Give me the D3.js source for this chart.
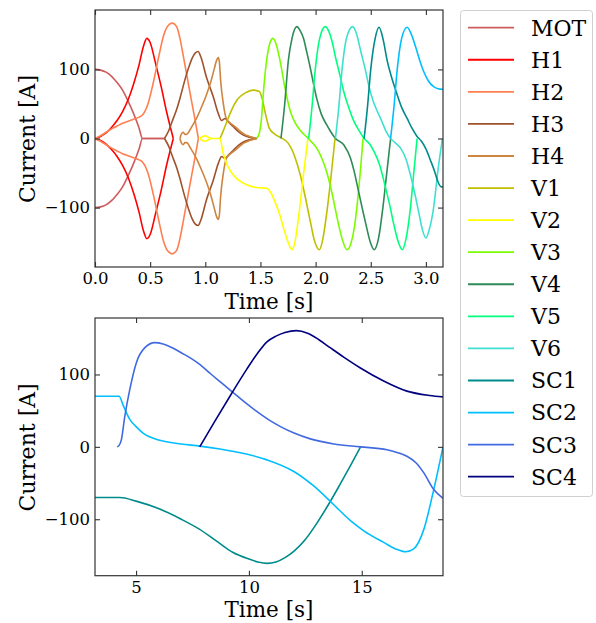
<!DOCTYPE html>
<html><head><meta charset="utf-8">
<script src="https://cdn.jsdelivr.net/npm/d3@7"></script>
<style>body{margin:0;background:#fff;} text{font-family:"DejaVu Serif",serif;fill:#000;}</style>
</head><body><svg id="c" width="596" height="623"></svg>
<script>
// ---------- series names and colours ----------
const names  = ["MOT","H1","H2","H3","H4","V1","V2","V3","V4","V5","V6","SC1","SC2","SC3","SC4"];
const colors = ["#cd5c5c","#ff0000","#ff7f50","#a0522d","#cd853f","#bfbf00","#ffff00","#7cfc00","#2e8b57","#00ff7f","#40e0d0","#008b8b","#00bfff","#4169e1","#000080"];

// ---------- top panel (0 - 3.16 s) ----------
// series drawn with a mirrored (negative) branch in the reference
const MOT_t = [0,0.05,0.1,0.15,0.2,0.25,0.3,0.35,0.4,0.43,0.63];
const MOT_I = [100,99,96,90,81,70,54,36,15,0,0];
const H1_t = [0,0.05,0.1,0.15,0.2,0.25,0.3,0.35,0.4,0.44,0.47,0.5,0.55,0.6,0.65,0.71];
const H1_I = [0,3,8,16,26,39,56,79,107,134,145,139,108,75,38,0];
const H2_t = [0,0.05,0.1,0.15,0.2,0.25,0.3,0.35,0.4,0.43,0.48,0.53,0.58,0.62,0.66,0.7,0.74,0.77,0.8,0.85,0.9,0.937];
const H2_I = [0,4,9,14,18,22,25,28,31,34,50,82,120,148,163,167,162,145,120,76,33,0];
const H3_t = [0.63,0.67,0.7,0.74,0.77,0.81,0.85,0.88,0.91,0.935,0.96,1.01,1.073,1.118,1.148,1.179,1.21,1.254,1.3,1.345,1.4,1.466];
const H3_I = [0,12,25,42,58,82,103,116,124,126,118,89,60,36,26,29,24,17,10,5,2,0];
const H4_t = [0.77,0.785,0.8,0.815,0.83,0.87,0.92,0.97,1.01,1.05,1.08,1.1,1.118,1.128,1.139,1.163,1.19,1.22,1.254,1.3,1.345,1.4,1.466];
const H4_I = [0,7,9,6,6,15,29,47,63,82,100,112,117,110,84,51,29,23,19,13,7,3,0];
const V2loop_t = [0.95,0.975,1.0,1.025,1.05];
const V2loop_I = [0,3,4,2,0];
// single-branch series
const V1_t = [1.133,1.16,1.19,1.224,1.285,1.375,1.436,1.49,1.515,1.545,1.58,1.632,1.69,1.753,1.813,1.86,1.9,1.952,1.99,2.034,2.06,2.1,2.14,2.176];
const V1_I = [0,10,22,36,55,67,70,68,58,36,15,6,1,-7,-27,-52,-80,-120,-148,-161,-150,-109,-55,0];
const V2_t = [1.05,1.133,1.16,1.19,1.224,1.285,1.375,1.466,1.556,1.6,1.632,1.68,1.707,1.75,1.786,1.81,1.85,1.89,1.93];
const V2_I = [0,0,-20,-35,-46,-58,-67,-71,-72,-80,-92,-113,-128,-150,-161,-152,-108,-52,0];
const V3_t = [1.466,1.49,1.51,1.526,1.556,1.585,1.614,1.645,1.677,1.72,1.768,1.81,1.86,1.934,1.97,2.01,2.06,2.1,2.15,2.19,2.24,2.285,2.32,2.35,2.39,2.43];
const V3_I = [0,8,30,65,113,138,145,135,113,75,41,24,12,0,-6,-14,-30,-48,-80,-111,-145,-161,-152,-130,-75,0];
const V4_t = [1.686,1.72,1.753,1.786,1.83,1.86,1.89,1.92,1.952,1.98,2.01,2.05,2.1,2.14,2.18,2.255,2.315,2.35,2.39,2.45,2.5,2.53,2.57,2.61,2.645,2.68];
const V4_I = [0,50,113,145,162,156,145,125,102,80,58,36,20,9,0,-9,-28,-48,-77,-120,-152,-161,-145,-100,-50,0];
const V5_t = [1.937,1.967,1.997,2.037,2.088,2.12,2.15,2.18,2.22,2.255,2.3,2.35,2.4,2.44,2.49,2.53,2.58,2.62,2.67,2.71,2.75,2.786,2.82,2.86,2.89,2.92];
const V5_I = [0,45,100,145,162,155,140,118,92,68,45,24,10,0,-8,-19,-38,-62,-95,-125,-150,-161,-145,-100,-50,0];
const V6_t = [2.18,2.21,2.24,2.28,2.335,2.37,2.41,2.45,2.48,2.52,2.56,2.6,2.64,2.68,2.72,2.77,2.82,2.86,2.9,2.94,2.97,3.0,3.03,3.07,3.11,3.15];
const V6_I = [0,45,100,145,162,152,126,100,78,55,39,25,10,0,-6,-14,-30,-53,-80,-111,-133,-144,-132,-100,-45,0];
const SC1top_t = [2.44,2.47,2.5,2.54,2.575,2.61,2.65,2.69,2.73,2.78,2.83,2.87,2.92,2.96,3.0,3.04,3.08,3.11,3.14,3.16];
const SC1top_I = [0,45,100,145,161,145,112,88,68,45,29,16,3,-4,-15,-31,-48,-63,-70,-70];
const SC2top_t = [2.68,2.71,2.74,2.78,2.83,2.87,2.91,2.95,2.98,3.02,3.07,3.11,3.16];
const SC2top_I = [0,45,100,145,161,150,131,110,97,84,75,72,71];

// ---------- bottom panel (3.18 - 18.6 s) ----------
const SC1_t = [3.18,4.28,5.0,6.05,7.0,7.82,8.6,9.3,10.0,10.4,10.8,11.2,11.6,12.0,12.5,13.0,13.5,14.0,14.5,14.95];
const SC1_I = [-70,-70,-75,-86,-100,-114,-131,-146,-155,-159,-161,-159,-153,-144,-128,-106,-81,-54,-26,0];
const SC2_t = [3.18,4.25,4.42,4.72,5.0,5.31,6.05,7.0,7.82,8.71,9.89,10.8,11.99,12.87,13.76,14.5,15.09,15.97,16.5,16.95,17.3,17.75,18.19,18.6];
const SC2_I = [70,70,58,38,28,19,9,4,1,-3,-10,-18,-34,-54,-80,-102,-116,-132,-141,-145,-141,-114,-59,0];
const SC3_t = [4.16,4.25,4.35,4.5,4.72,5.01,5.39,5.83,6.2,6.6,7.0,7.4,7.82,8.3,8.8,9.3,9.8,10.3,10.85,11.4,12.0,12.72,13.76,14.94,16.12,16.6,17.0,17.4,17.75,18.19,18.6];
const SC3_I = [0,2,10,42,79,116,137,144,142,137,130,123,114,101,88,75,62,50,38,28,19,11,4,0,-4,-8,-13,-22,-36,-59,-71];
const SC4_t = [7.82,8.5,9.2,9.9,10.4,10.8,11.2,11.6,12.1,12.6,13.1,13.6,14.2,14.94,15.97,17.0,18.0,18.6];
const SC4_I = [0,36,72,107,130,145,153,158,160.5,157,148,137,124,109,91,77,71,69];

// ---------- axes ticks ----------
const topXTicks = [0,0.5,1.0,1.5,2.0,2.5,3.0];
const botXTicks = [5,10,15];
const yTicks = [-100,0,100];

const zip = (t, I) => t.map((v, i) => [v, I[i]]);
const neg = pts => pts.map(p => [p[0], -p[1]]);

const topLines = [
  {s:"MOT", pts:zip(MOT_t,MOT_I), mirror:true},
  {s:"H1", pts:zip(H1_t,H1_I), mirror:true},
  {s:"H2", pts:zip(H2_t,H2_I), mirror:true},
  {s:"H3", pts:zip(H3_t,H3_I), mirror:true},
  {s:"H4", pts:zip(H4_t,H4_I), mirror:true},
  {s:"V1", pts:zip(V1_t,V1_I)},
  {s:"V2", pts:zip(V2loop_t,V2loop_I), mirror:true},
  {s:"V2", pts:zip(V2_t,V2_I)},
  {s:"V3", pts:zip(V3_t,V3_I)},
  {s:"V4", pts:zip(V4_t,V4_I)},
  {s:"V5", pts:zip(V5_t,V5_I)},
  {s:"V6", pts:zip(V6_t,V6_I)},
  {s:"SC1", pts:zip(SC1top_t,SC1top_I)},
  {s:"SC2", pts:zip(SC2top_t,SC2top_I)}
];
const botLines = [
  {s:"SC1", pts:zip(SC1_t,SC1_I)},
  {s:"SC2", pts:zip(SC2_t,SC2_I)},
  {s:"SC3", pts:zip(SC3_t,SC3_I)},
  {s:"SC4", pts:zip(SC4_t,SC4_I)}
];

const svg = d3.select("#c");
const colorOf = d3.scaleOrdinal().domain(names).range(colors);
const L = 95, R = 443;
const spine = "#333";

function panel(id, top, bottom, xDom, yDom, xTicks, xFmt, lines) {
  const x = d3.scaleLinear().domain(xDom).range([L, R]);
  const y = d3.scaleLinear().domain(yDom).range([bottom, top]);
  const g = svg.append("g");
  g.append("clipPath").attr("id", id).append("rect")
    .attr("x", L).attr("y", top).attr("width", R - L).attr("height", bottom - top);
  const line = d3.line().x(d => x(d[0])).y(d => y(d[1])).curve(d3.curveMonotoneX);
  const lg = g.append("g").attr("clip-path", `url(#${id})`);
  lines.forEach(l => {
    const segs = l.mirror ? [neg(l.pts), l.pts] : [l.pts];
    segs.forEach(p => lg.append("path").attr("d", line(p)).attr("fill", "none")
      .attr("stroke", colorOf(l.s)).attr("stroke-width", 1.6).attr("stroke-linejoin","round"));
  });
  const fs = 16.5;
  const styleAx = a => { a.select(".domain").remove(); a.selectAll("line").attr("stroke", spine).attr("stroke-width", 1.1);
    a.selectAll("text").attr("font-family", '"DejaVu Serif",serif').attr("font-size", fs).attr("fill", "#000"); };
  g.append("g").attr("transform", `translate(0,${bottom})`)
    .call(d3.axisBottom(x).tickValues(xTicks).tickFormat(xFmt).tickSizeInner(-5).tickSizeOuter(0).tickPadding(5.3)).call(styleAx);
  g.append("g").attr("transform", `translate(0,${top})`)
    .call(d3.axisTop(x).tickValues(xTicks).tickFormat("").tickSizeInner(-5).tickSizeOuter(0)).call(styleAx);
  g.append("g").attr("transform", `translate(${L},0)`)
    .call(d3.axisLeft(y).tickValues(yTicks).tickFormat(d3.format("d")).tickSizeInner(-5).tickSizeOuter(0).tickPadding(5)).call(styleAx);
  g.append("g").attr("transform", `translate(${R},0)`)
    .call(d3.axisRight(y).tickValues(yTicks).tickFormat("").tickSizeInner(-5).tickSizeOuter(0)).call(styleAx);
  g.append("rect").attr("x", L).attr("y", top).attr("width", R - L).attr("height", bottom - top)
    .attr("fill", "none").attr("stroke", spine).attr("stroke-width", 1.2);
  g.append("text").attr("x", (L + R) / 2).attr("y", bottom + 41.5).attr("text-anchor", "middle")
    .attr("font-size", 21.5).text("Time [s]");
  g.append("text").attr("transform", `translate(34.5,${(top + bottom) / 2 + 0.5}) rotate(-90)`)
    .attr("text-anchor", "middle").attr("font-size", 22).text("Current [A]");
}

panel("clipTop", 10, 267, [0, 3.155], [-186, 186], topXTicks, d3.format(".1f"), topLines);
panel("clipBot", 318, 575.7, [3.18, 18.6], [-178, 178], botXTicks, d3.format("d"), botLines);

// ---------- legend ----------
const lgd = svg.append("g");
lgd.append("rect").attr("x", 460.5).attr("y", 10.5).attr("width", 132).attr("height", 486).attr("rx", 3)
  .attr("fill", "#fff").attr("fill-opacity", 0.8).attr("stroke", "#d0d0d0").attr("stroke-width", 1);
const rowY = d3.scaleLinear().domain([0, names.length - 1]).range([27.7, 476.7]);
names.forEach((n, i) => {
  lgd.append("line").attr("x1", 468).attr("x2", 514).attr("y1", rowY(i)).attr("y2", rowY(i))
    .attr("stroke", colorOf(n)).attr("stroke-width", 1.8);
  lgd.append("text").attr("x", 531).attr("y", rowY(i)).attr("dy", "0.36em").attr("font-size", 22).text(n);
});
</script></body></html>
